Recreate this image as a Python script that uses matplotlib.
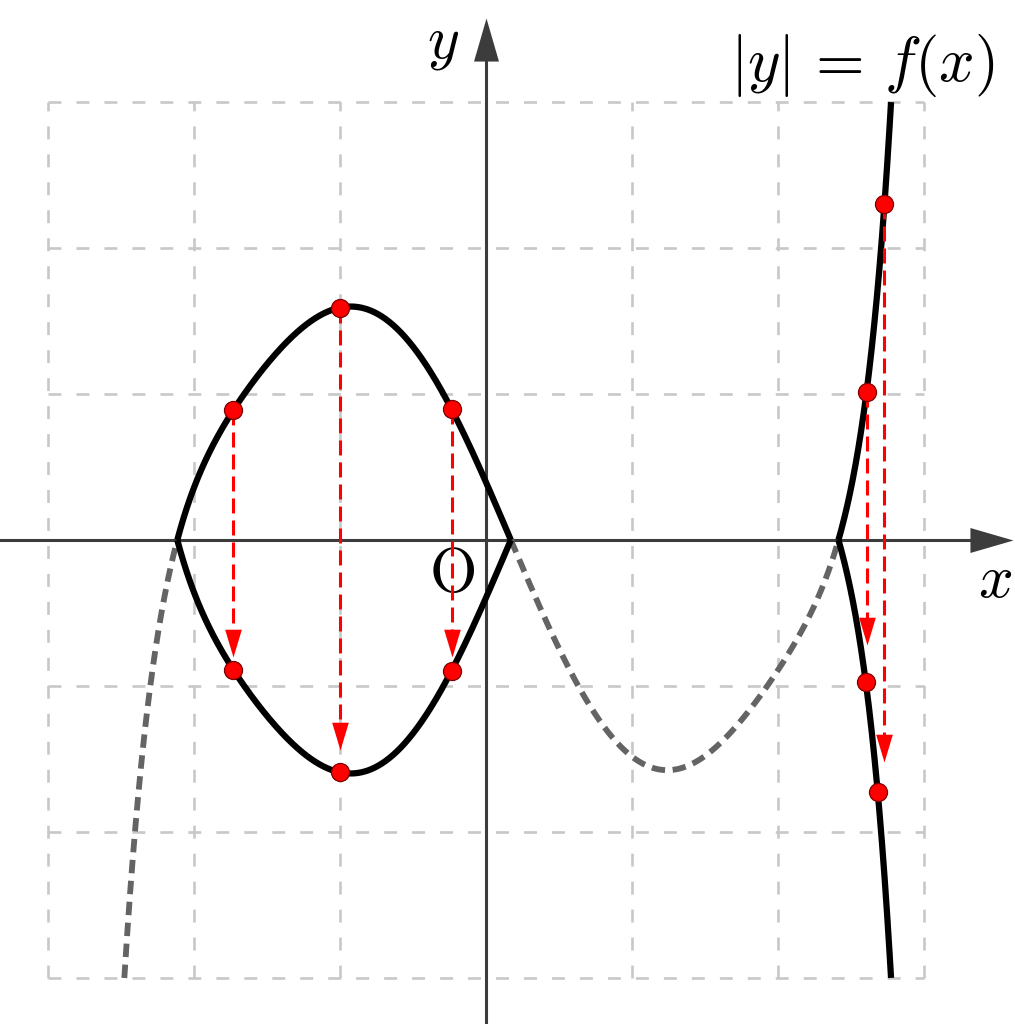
import numpy as np
import matplotlib
matplotlib.use("Agg")
import matplotlib.pyplot as plt

plt.rcParams['mathtext.fontset'] = 'cm'

# f(x) = polynomial + two pole terms, coefficients fitted to points
poly_coef = [16.967650, -13.036677, 0.830424, 0.016958, 0.213428, -0.182077]
pole_r, pole_r_coef = 3.6, 39.922015
pole_l, pole_l_coef = -3.6, -99.581468

# red points on the loop, given by x (top on y=f(x), bottom on y=-f(x))
loop_x = [-1.731, -1.0, -0.235]
# red points on the right branch, given by y
branch_top_y = [1.016, 2.30]
branch_bottom_y = [-0.973, -1.724]
# red arrows go down from the top points and stop at these y values
loop_tip = [-0.80, -1.438, -0.80]
branch_tip = [-0.719, -1.52]

grid_lines = [-3, -2, -1, 0, 1, 2, 3]
y_max = 3


def f(x):
    x = np.asarray(x, dtype=float)
    s = sum(c * x**k for k, c in enumerate(poly_coef))
    return s + pole_r_coef / (pole_r - x) + pole_l_coef / (x - pole_l)


def x_on_branch(yv):
    # right branch is increasing between its root and the top of the grid
    xx = np.linspace(2.3, 2.8, 5000)
    return np.interp(yv, f(xx), xx)


fig = plt.figure(figsize=(10.15, 10.24), dpi=100)
ax = fig.add_axes([0, 0, 1, 1])
ax.set_xlim(-3.3288, 3.6233)
ax.set_ylim(-3.3151, 3.6986)
ax.axis("off")

# dashed grid
for g in grid_lines:
    ax.plot([g, g], [grid_lines[0], grid_lines[-1]], color="#c8c8c8", lw=1.9,
            dashes=(4.9, 5.7), zorder=1)
    ax.plot([grid_lines[0], grid_lines[-1]], [g, g], color="#c8c8c8", lw=1.9,
            dashes=(4.9, 5.7), zorder=1)

# axes with arrow heads
axis_col = "#3c3c3c"
head_right = [(0, 0), (-1, 0.29), (-1, -0.29)]
head_up = [(0, 0), (0.29, -1), (-0.29, -1)]
x_tip, y_tip = 3.61, 3.575
ax.plot([-3.3288, x_tip - 0.25], [0, 0], color=axis_col, lw=2.2, zorder=2)
ax.plot([0, 0], [-3.3151, y_tip - 0.25], color=axis_col, lw=2.2, zorder=2)
ax.plot(x_tip, 0, marker=head_right, ms=62, color=axis_col, mec='none', zorder=2)
ax.plot(0, y_tip, marker=head_up, ms=62, color=axis_col, mec='none', zorder=2)

# curve: y = f(x) dashed where negative, |y| = f(x) solid
xs = np.linspace(-2.7, 2.9, 40000)
ys = f(xs)
pos = np.where((ys >= 0) & (ys <= y_max), ys, np.nan)
neg = np.where((ys <= 0) & (ys >= -y_max), ys, np.nan)
ax.plot(xs, neg, color="#646464", lw=4.2, dashes=(2.3, 1.3), zorder=3)
ax.plot(xs, pos, color="black", lw=4.5, zorder=3, solid_capstyle='butt')
ax.plot(xs, -pos, color="black", lw=4.5, zorder=3, solid_capstyle='butt')

# point positions
top_x = list(loop_x) + list(x_on_branch(branch_top_y))
top_y = list(f(loop_x)) + list(branch_top_y)
bottom_x = list(loop_x) + list(x_on_branch(-np.array(branch_bottom_y)))
bottom_y = list(-f(loop_x)) + list(branch_bottom_y)
tips = loop_tip + branch_tip

# red dashed arrows
head_down = [(0, 0), (-0.3, 1), (0.3, 1)]
for x0, y0, tip in zip(top_x, top_y, tips):
    ax.plot([x0, x0], [y0, tip + 0.1], color="red", lw=2.2,
            dashes=(4.9, 2.3), zorder=4)
    ax.plot(x0, tip, marker=head_down, ms=40, color="red", mec='none', zorder=5)

# red points
ax.plot(top_x, top_y, 'o', ms=13, color="red", mec="#7a0000", mew=0.9, zorder=6)
ax.plot(bottom_x, bottom_y, 'o', ms=13, color="red", mec="#7a0000", mew=0.9, zorder=6)

# labels
ax.text(-0.295, 3.405, r'$y$', fontsize=44, ha='center', va='center')
ax.text(3.486, -0.28, r'$x$', fontsize=44, ha='center', va='center')
ax.text(-0.236, -0.24, r'$\mathrm{O}$', fontsize=44, ha='center', va='center')
ax.text(2.575, 3.247, r'$|y|\,=\,f(x)$', fontsize=45, ha='center', va='center')

fig.savefig("out.png")
